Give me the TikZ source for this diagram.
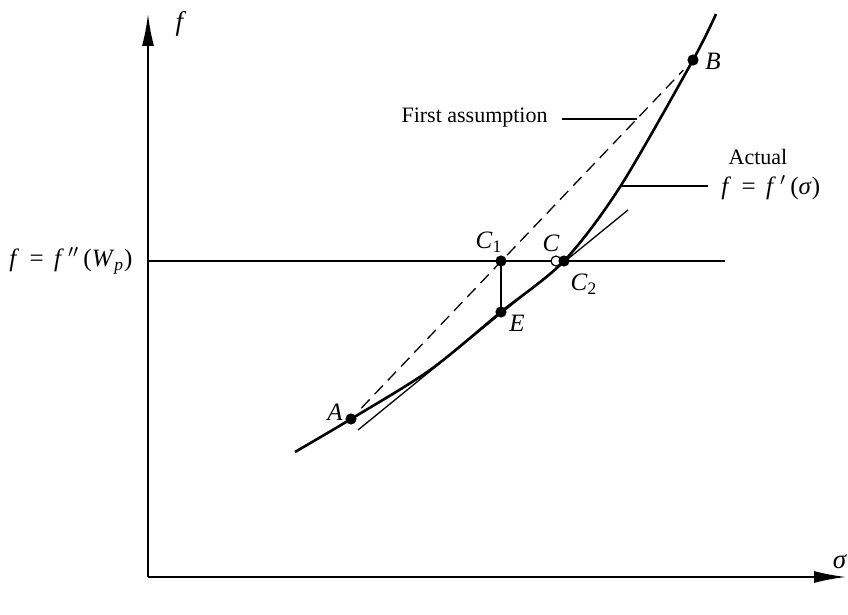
\documentclass[tikz,border=0pt]{standalone}
\usepackage{fontspec}
\setmainfont{Liberation Serif}
\usetikzlibrary{arrows.meta}
\begin{document}
\begin{tikzpicture}[x=0.5pt,y=-0.5pt,
  font=\fontsize{11}{13}\selectfont,
  axis/.style={line width=0.9pt,-{Latex[length=16pt,width=6pt]}},
  thinline/.style={line width=0.65pt},
  curveline/.style={line width=1.3pt},
  dot/.style={circle,fill=black,inner sep=0pt,minimum size=5.6pt},
  odot/.style={circle,draw=black,fill=white,line width=0.6pt,inner sep=0pt,minimum size=5pt},
  lbl/.style={inner sep=1pt},
  bigl/.style={inner sep=1pt,font=\fontsize{12.5}{15}\selectfont},
  axl/.style={inner sep=1pt,font=\fontsize{13.5}{16}\selectfont}]
\useasboundingbox (0,0) rectangle (848,615);
% axes
\coordinate (O) at (148,577);
\coordinate (Ytop) at (148,14);
\coordinate (Xend) at (846,577);
\draw[axis] (O) -- (Ytop);
\draw[axis] (O) -- (Xend);
\node[axl] (flab) at (181,24) {\textit{f}};
\node[axl] (slab) at (840,562) {\textit{σ}};
% horizontal level line
\coordinate (H0) at (148,261);
\coordinate (H1) at (725,261);
\draw[thinline] (H0) -- (H1);
\node[bigl] (hlab) at (71,261) {\textit{f}\, = \,\textit{f}\,$''$\,(\textit{W}\textsubscript{\textit{p}})};
% key points
\coordinate (S) at (295,452);
\coordinate (P1) at (430,370);
\coordinate (P2) at (620,187);
\coordinate (T) at (716,14);
\coordinate (Apt) at (351,419);
\coordinate (Ept) at (501,312);
\coordinate (C2pt) at (564,261);
\coordinate (Bpt) at (693,60);
% tangent at C2
\coordinate (Tg0) at (358,430);
\coordinate (Tg1) at (628,210);
\draw[thinline] (Tg0) -- (Tg1);
% dashed first assumption
\draw[thinline,dashed,dash pattern=on 6pt off 3.6pt,shorten <=7.5pt,shorten >=7pt] (Apt) -- (Bpt);
% actual curve
\draw[curveline] plot[smooth,tension=0.5] coordinates {(S) (Apt) (P1) (Ept) (C2pt) (P2) (Bpt) (T)};
% C1 - E
\coordinate (C1pt) at (501,261);
\draw[thinline] (C1pt) -- (Ept);
% dots
\node[dot] (A) at (Apt) {};
\node[dot] (B) at (Bpt) {};
\node[dot] (E) at (Ept) {};
\node[dot] (C1) at (C1pt) {};
\node[odot] (C) at (556,261) {};
\node[dot] (C2) at (C2pt) {};
% labels
\node[bigl] (Al) at (335,412) {\textit{A}};
\node[bigl] (Bl) at (713,61) {\textit{B}};
\node[bigl] (C1l) at (489,242) {\textit{C}\textsubscript{1}};
\node[bigl] (Cl) at (551,243) {\textit{C}};
\node[bigl] (C2l) at (584,284) {\textit{C}\textsubscript{2}};
\node[bigl] (El) at (517,323) {\textit{E}};
% first assumption label
\node[lbl,anchor=east] (fa) at (550,118) {First assumption};
\coordinate (faend) at (637,119);
\draw[thinline] (562,119) -- (faend);
% actual label
\node[lbl] (act) at (758,157) {Actual};
\node[bigl,anchor=west] (actf) at (719,188) {\textit{f}\, = \,\textit{f}\,$'$\,(\textit{σ})};
\coordinate (acts) at (622,186);
\draw[thinline] (acts) -- (708,186);
\end{tikzpicture}
\end{document}
